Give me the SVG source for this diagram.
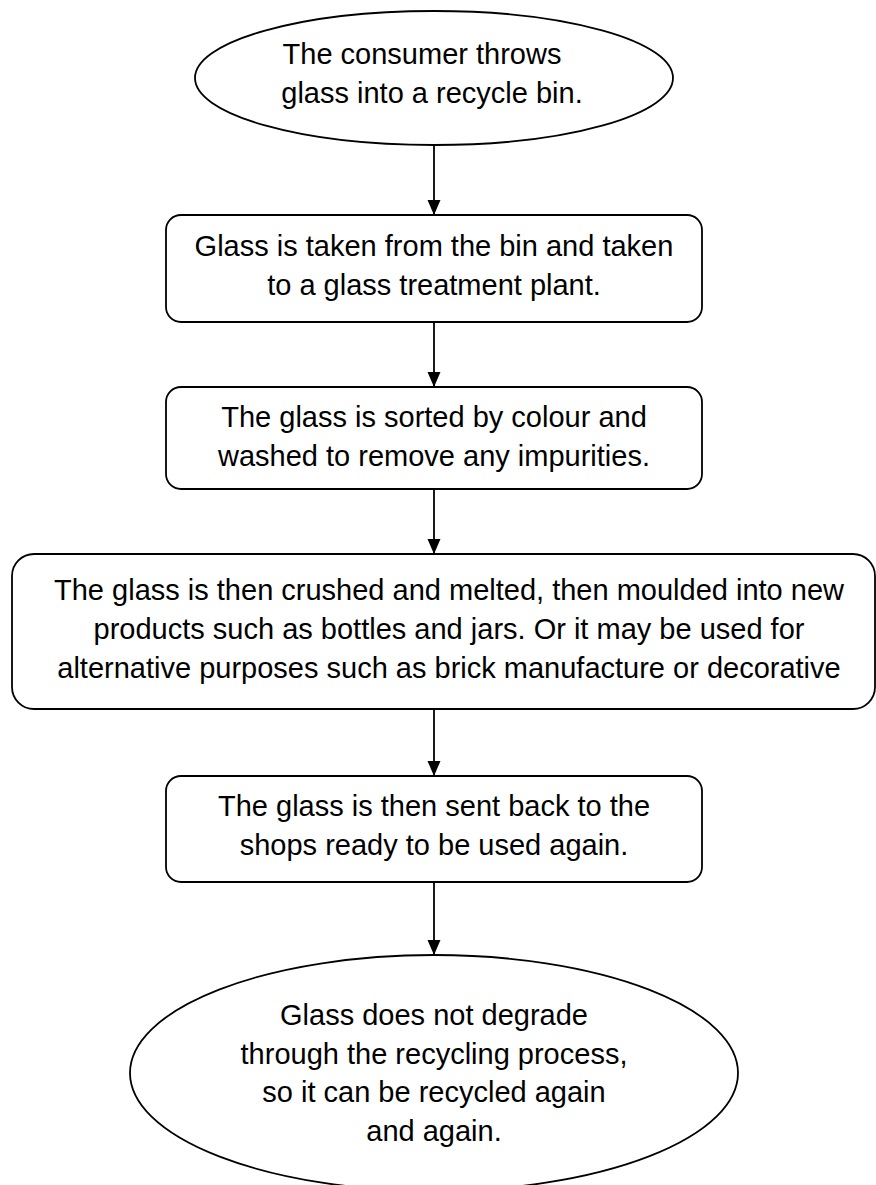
<svg xmlns="http://www.w3.org/2000/svg" width="876" height="1185" viewBox="0 0 876 1185">
<style>
.shape{fill:#fff;stroke:#000;stroke-width:1.8}
.t{font-family:"Liberation Sans",Arial,sans-serif;font-size:29px;fill:#000;text-anchor:middle}
.conn{stroke:#000;stroke-width:1.8;fill:none}
</style>
<defs>
<marker id="arr" markerUnits="userSpaceOnUse" markerWidth="15" markerHeight="14" refX="15" refY="6.5" orient="auto">
<path d="M0,0 L15,6.5 L0,13 Z" fill="#000"/>
</marker>
</defs>
<rect width="876" height="1185" fill="#fff"/>
<g id="connectors">
<line class="conn" x1="434" y1="145" x2="434" y2="215" marker-end="url(#arr)"/>
<line class="conn" x1="434" y1="322" x2="434" y2="387" marker-end="url(#arr)"/>
<line class="conn" x1="434" y1="489" x2="434" y2="554" marker-end="url(#arr)"/>
<line class="conn" x1="434" y1="709" x2="434" y2="776" marker-end="url(#arr)"/>
<line class="conn" x1="434" y1="882" x2="434" y2="955" marker-end="url(#arr)"/>
</g>
<g id="n1">
<ellipse class="shape" cx="434" cy="78" rx="239" ry="67"/>
<text class="t" x="422" y="64">The consumer throws</text>
<text class="t" x="432" y="103">glass into a recycle bin.</text>
</g>
<g id="n2">
<rect class="shape" x="166" y="215" width="536" height="107" rx="15"/>
<text class="t" x="434" y="256">Glass is taken from the bin and taken</text>
<text class="t" x="434" y="295">to a glass treatment plant.</text>
</g>
<g id="n3">
<rect class="shape" x="166" y="387" width="536" height="102" rx="15"/>
<text class="t" x="434" y="427">The glass is sorted by colour and</text>
<text class="t" x="434" y="466">washed to remove any impurities.</text>
</g>
<g id="n4">
<rect class="shape" x="12" y="554" width="863" height="155" rx="22"/>
<text class="t" x="449" y="600">The glass is then crushed and melted, then moulded into new</text>
<text class="t" x="449" y="639">products such as bottles and jars. Or it may be used for</text>
<text class="t" x="449" y="678">alternative purposes such as brick manufacture or decorative</text>
</g>
<g id="n5">
<rect class="shape" x="166" y="776" width="536" height="106" rx="15"/>
<text class="t" x="434" y="816">The glass is then sent back to the</text>
<text class="t" x="434" y="855">shops ready to be used again.</text>
</g>
<g id="n6">
<ellipse class="shape" cx="434" cy="1073" rx="304" ry="118"/>
<text class="t" x="434" y="1025">Glass does not degrade</text>
<text class="t" x="434" y="1064">through the recycling process,</text>
<text class="t" x="434" y="1102">so it can be recycled again</text>
<text class="t" x="434" y="1141">and again.</text>
</g>
</svg>
